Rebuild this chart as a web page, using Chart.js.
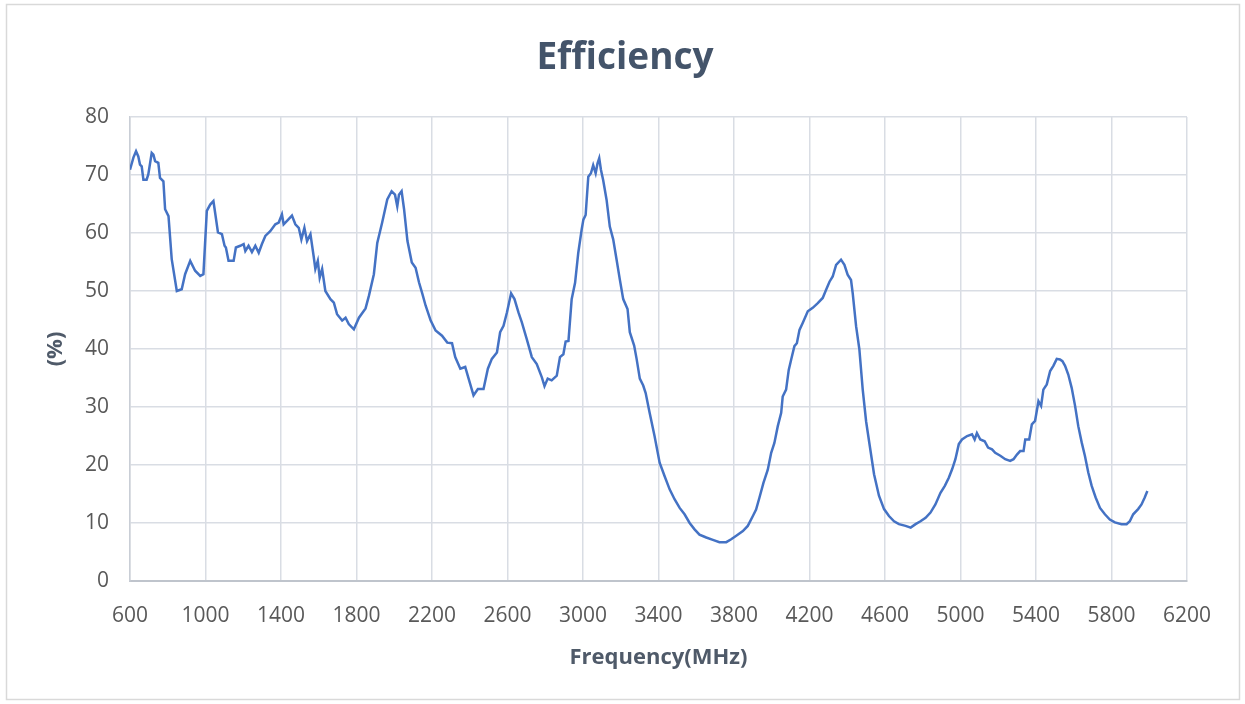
<!DOCTYPE html>
<html>
<head>
<meta charset="utf-8">
<title>Efficiency</title>
<script src="https://cdn.jsdelivr.net/npm/chart.js@4.4.1/dist/chart.umd.min.js"></script>
<style>
    html, body { margin: 0; padding: 0; background: #ffffff; }
    #wrap { position: relative; width: 1245px; height: 704px; }
</style>
</head>
<body>
<div id="wrap"><canvas id="myChart" width="1245" height="704"></canvas></div>
<script>
// Frequency (MHz) and efficiency (%)
const freqMHz = [
    600, 618, 632, 644, 653, 662, 671, 688, 697, 715, 724, 733, 750, 759, 777, 786, 804, 821, 848, 874,
    892, 919, 945, 972, 989, 1007, 1025, 1042, 1051, 1066, 1087, 1101, 1108, 1122, 1149, 1161, 1184, 1202, 1211, 1228,
    1246, 1264, 1282, 1299, 1317, 1343, 1370, 1388, 1405, 1414, 1432, 1458, 1476, 1494, 1508, 1524, 1538, 1556, 1573, 1582,
    1595, 1605, 1618, 1635, 1662, 1680, 1697, 1724, 1742, 1759, 1786, 1813, 1848, 1866, 1892, 1910, 1936, 1963, 1986, 2004,
    2016, 2025, 2039, 2052, 2070, 2093, 2113, 2131, 2149, 2166, 2193, 2219, 2253, 2281, 2306, 2323, 2350, 2376, 2394, 2420,
    2443, 2473, 2496, 2517, 2544, 2561, 2579, 2597, 2619, 2637, 2658, 2676, 2702, 2729, 2755, 2782, 2796, 2813, 2834, 2861,
    2878, 2896, 2908, 2923, 2940, 2958, 2975, 2993, 3002, 3014, 3028, 3042, 3054, 3067, 3077, 3086, 3095, 3107, 3125, 3142,
    3160, 3178, 3195, 3213, 3236, 3248, 3271, 3284, 3301, 3319, 3332, 3353, 3379, 3406, 3432, 3459, 3485, 3512, 3538, 3565,
    3591, 3617, 3653, 3688, 3723, 3759, 3785, 3812, 3847, 3873, 3900, 3917, 3935, 3956, 3979, 3997, 4014, 4032, 4050, 4058,
    4076, 4090, 4103, 4120, 4133, 4147, 4164, 4191, 4217, 4244, 4270, 4288, 4306, 4323, 4341, 4367, 4385, 4402, 4420, 4429,
    4447, 4464, 4482, 4500, 4517, 4542, 4568, 4595, 4621, 4648, 4674, 4709, 4736, 4762, 4788, 4815, 4841, 4867, 4894, 4917,
    4938, 4956, 4973, 4991, 5008, 5035, 5061, 5075, 5087, 5105, 5128, 5146, 5167, 5184, 5211, 5237, 5263, 5281, 5299, 5316,
    5334, 5343, 5364, 5378, 5395, 5413, 5427, 5439, 5457, 5475, 5492, 5510, 5527, 5540, 5554, 5571, 5589, 5607, 5624, 5642,
    5659, 5677, 5695, 5716, 5739, 5765, 5791, 5818, 5853, 5880, 5897, 5915, 5941, 5959, 5976, 5990
];
const efficiency = [
    70.9, 73.0, 74.1, 73.2, 71.8, 71.5, 69.2, 69.2, 70.1, 73.8, 73.5, 72.4, 72.1, 69.5, 68.9, 64.1, 62.9, 55.5, 50.0, 50.3,
    52.9, 55.2, 53.5, 52.6, 52.9, 63.8, 64.9, 65.5, 63.5, 60.1, 59.8, 57.8, 57.5, 55.2, 55.2, 57.5, 57.8, 58.1, 56.9, 57.8,
    56.7, 57.8, 56.6, 58.1, 59.5, 60.3, 61.5, 61.8, 63.2, 61.5, 62.1, 63.0, 61.5, 60.9, 58.9, 60.9, 58.6, 59.8, 56.0, 53.8,
    55.2, 52.3, 53.8, 50.0, 48.6, 48.0, 46.0, 44.9, 45.4, 44.3, 43.4, 45.4, 47.0, 49.2, 52.9, 58.3, 61.8, 65.8, 67.2, 66.6,
    64.6, 66.6, 67.2, 64.1, 58.6, 54.9, 54.0, 51.5, 49.5, 47.5, 44.9, 43.2, 42.3, 41.1, 41.0, 38.6, 36.6, 36.9, 34.9, 32.0,
    33.1, 33.1, 36.6, 38.3, 39.4, 42.9, 44.0, 46.3, 49.6, 48.6, 46.3, 44.6, 41.7, 38.6, 37.4, 35.1, 33.6, 34.9, 34.6, 35.4,
    38.6, 39.1, 41.3, 41.4, 48.6, 51.4, 56.6, 60.6, 62.3, 63.1, 69.7, 70.3, 71.7, 70.3, 72.0, 72.9, 70.9, 69.1, 65.7, 61.1,
    58.9, 55.4, 52.0, 48.6, 46.9, 42.9, 40.6, 38.3, 34.9, 33.7, 32.4, 29.0, 25.0, 20.4, 18.1, 15.8, 14.1, 12.6, 11.5, 10.0,
    8.9, 8.0, 7.5, 7.1, 6.7, 6.7, 7.2, 7.8, 8.6, 9.5, 11.2, 12.3, 14.4, 16.9, 19.2, 22.1, 23.8, 26.7, 29.0, 31.8,
    33.0, 36.4, 38.2, 40.5, 41.0, 43.3, 44.5, 46.5, 47.1, 47.9, 48.8, 50.2, 51.6, 52.5, 54.5, 55.4, 54.5, 52.8, 51.9, 49.6,
    43.9, 40.0, 33.0, 27.5, 23.8, 18.4, 14.7, 12.4, 11.2, 10.3, 9.8, 9.5, 9.2, 9.8, 10.3, 10.9, 11.8, 13.2, 15.2, 16.4,
    17.8, 19.3, 21.0, 23.6, 24.4, 25.0, 25.3, 24.4, 25.5, 24.4, 24.1, 23.0, 22.7, 22.1, 21.6, 21.0, 20.7, 21.0, 21.8, 22.4,
    22.4, 24.4, 24.4, 27.0, 27.6, 31.0, 30.2, 33.0, 33.9, 36.2, 37.1, 38.3, 38.2, 37.9, 37.1, 35.6, 33.3, 30.2, 26.7, 23.9,
    21.6, 18.7, 16.4, 14.4, 12.6, 11.5, 10.6, 10.1, 9.8, 9.8, 10.3, 11.5, 12.4, 13.2, 14.4, 15.5
];
const xTicks = [600, 1000, 1400, 1800, 2200, 2600, 3000, 3400, 3800, 4200, 4600, 5000, 5400, 5800, 6200];
const yTicks = [0, 10, 20, 30, 40, 50, 60, 70, 80];

const chartTitle = 'Efficiency';
const xTitle = 'Frequency(MHz)';
const yTitle = '(%)';

document.addEventListener('DOMContentLoaded', () => {
    const fontFamily = "'Open Sans', 'Noto Sans', sans-serif";
    const gridColor = '#d9dde4';

    // light frame around the whole chart, like the Excel chart area
    const framePlugin = {
        id: 'frame',
        beforeDraw(chart) {
            const ctx = chart.ctx;
            ctx.save();
            ctx.fillStyle = '#ffffff';
            ctx.fillRect(0, 0, chart.width, chart.height);
            ctx.strokeStyle = '#d9d9d9';
            ctx.lineWidth = 1.5;
            ctx.strokeRect(6.5, 4.5, 1233, 695);
            ctx.restore();
        }
    };

    // chart title is centred on the whole frame (Excel style), not on the padded layout box
    const titlePlugin = {
        id: 'frameTitle',
        afterDraw(chart) {
            const ctx = chart.ctx;
            ctx.save();
            ctx.fillStyle = '#44546a';
            ctx.font = "bold 37px " + fontFamily;
            ctx.textAlign = 'center';
            ctx.textBaseline = 'middle';
            ctx.fillText(chartTitle, 625, 58);
            ctx.restore();
        }
    };

    const points = freqMHz.map((f, i) => ({ x: f, y: efficiency[i] }));

    new Chart('myChart', {
        type: 'line',
        data: {
            datasets: [{
                label: yTitle,
                data: points,
                borderColor: '#4472c4',
                borderWidth: 2.5,
                pointRadius: 0,
                tension: 0,
                fill: false
            }]
        },
        options: {
            responsive: false,
            animation: false,
            layout: { padding: { left: 40, right: 58, top: 117, bottom: 20 } },
            plugins: {
                legend: { display: false },
                tooltip: { enabled: false },
                title: { display: false }
            },
            scales: {
                x: {
                    type: 'linear',
                    min: xTicks[0],
                    max: xTicks[xTicks.length - 1],
                    afterBuildTicks: (scale) => {
                        scale.ticks = xTicks.map(v => ({ value: v }));
                    },
                    afterFit: (scale) => { scale.height = 103; },
                    ticks: {
                        color: '#595959',
                        font: { family: fontFamily, size: 21 },
                        padding: 22,
                        maxRotation: 0,
                        autoSkip: false,
                        callback: (value) => String(value)
                    },
                    grid: { color: gridColor, lineWidth: 1.5, drawTicks: false },
                    border: { color: '#bfc4cc', width: 2 },
                    title: {
                        display: true,
                        text: xTitle,
                        color: '#4f5a69',
                        font: { family: fontFamily, size: 22, weight: 'bold' },
                        padding: { top: 0, bottom: 13 }
                    }
                },
                y: {
                    min: yTicks[0],
                    max: yTicks[yTicks.length - 1],
                    afterBuildTicks: (scale) => {
                        scale.ticks = yTicks.map(v => ({ value: v }));
                    },
                    afterFit: (scale) => { scale.width = 90; },
                    ticks: {
                        color: '#595959',
                        font: { family: fontFamily, size: 21 },
                        padding: 21,
                        callback: (value) => String(value)
                    },
                    grid: { color: gridColor, lineWidth: 1.5, drawTicks: false },
                    border: { color: '#c9ced6', width: 1.5 },
                    title: {
                        display: true,
                        text: yTitle,
                        color: '#4f5a69',
                        font: { family: fontFamily, size: 22, weight: 'bold' },
                        padding: { top: 3, bottom: 0 }
                    }
                }
            }
        },
        plugins: [framePlugin, titlePlugin]
    });
});
</script>
</body>
</html>
